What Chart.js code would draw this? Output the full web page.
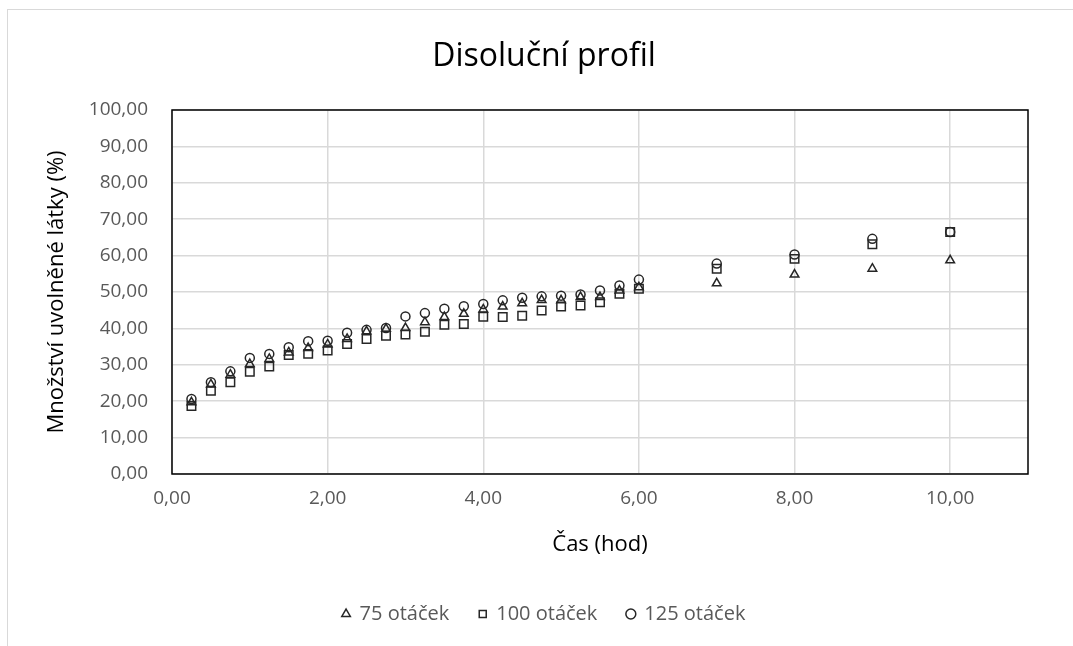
<!DOCTYPE html>
<html>
<head>
<meta charset="utf-8">
<script src="https://cdn.jsdelivr.net/npm/chart.js@4"></script>
<style>
  html, body { margin: 0; padding: 0; background: #fff; overflow: hidden; }
  #frame { position: absolute; left: 7px; top: 9px; width: 1200px; height: 800px; border: 1px solid #d9d9d9; }
  #wrap { position: absolute; left: 0; top: 0; width: 1073px; height: 646px; }
</style>
</head>
<body>
<div id="frame"></div>
<div id="wrap"><canvas id="myChart"></canvas></div>
<script>
// hodnoty
const times = [0.25, 0.5, 0.75, 1, 1.25, 1.5, 1.75, 2, 2.25, 2.5, 2.75, 3, 3.25, 3.5, 3.75, 4,
  4.25, 4.5, 4.75, 5, 5.25, 5.5, 5.75, 6, 7, 8, 9, 10];
const rpm75 = [19.7, 24.6, 27.3, 30.2, 31.6, 33.4, 34.6, 35.6, 37.1, 39.2, 39.9, 40.1, 41.7, 43.1, 44.0, 45.2,
  46.0, 46.9, 47.8, 47.7, 48.6, 48.6, 50.4, 51.3, 52.4, 54.8, 56.4, 58.7];
const rpm100 = [18.7, 22.9, 25.2, 28.1, 29.5, 32.7, 33.0, 33.9, 35.7, 37.1, 38.0, 38.3, 39.1, 41.0, 41.2, 43.2,
  43.1, 43.5, 44.9, 46.0, 46.3, 47.2, 49.5, 50.9, 56.4, 59.1, 63.1, 66.5];
const rpm125 = [20.6, 25.2, 28.2, 31.9, 33.0, 34.8, 36.5, 36.6, 38.8, 39.6, 40.1, 43.3, 44.2, 45.4, 46.1, 46.7,
  47.7, 48.4, 48.8, 49.0, 49.3, 50.4, 51.8, 53.4, 57.8, 60.3, 64.6, 66.5];
const seriesNames = ["75 otáček", "100 otáček", "125 otáček"];

const toPoints = (vals) => vals.map((v, i) => ({ x: times[i], y: v }));
const comma = (v) => v.toFixed(2).replace(".", ",");
const FONT = "'Open Sans', 'Noto Sans', sans-serif";
const ink = "#262626";

const plotBox = {
  id: "plotBox",
  afterDraw(chart) {
    const { ctx, chartArea: a } = chart;
    ctx.save();
    ctx.strokeStyle = "#000";
    ctx.lineWidth = 1.5;
    ctx.strokeRect(a.left, a.top, a.right - a.left, a.bottom - a.top);
    ctx.restore();
  }
};

const chart = new Chart(document.getElementById("myChart"), {
  type: "scatter",
  data: {
    datasets: [
      {
        label: seriesNames[0],
        data: toPoints(rpm75),
        pointStyle: "triangle",
        pointRadius: 5,
        borderColor: ink,
        backgroundColor: "rgba(0,0,0,0)",
        borderWidth: 1.5,
      },
      {
        label: seriesNames[1],
        data: toPoints(rpm100),
        pointStyle: "rect",
        pointRadius: 6,
        borderColor: ink,
        backgroundColor: "rgba(0,0,0,0)",
        borderWidth: 1.5,
      },
      {
        label: seriesNames[2],
        data: toPoints(rpm125),
        pointStyle: "circle",
        pointRadius: 4.5,
        borderColor: ink,
        backgroundColor: "rgba(0,0,0,0)",
        borderWidth: 1.5,
      },
    ],
  },
  options: {
    responsive: true,
    maintainAspectRatio: false,
    animation: false,
    layout: { padding: { left: 15, right: 0, top: 0, bottom: 12 } },
    plugins: {
      tooltip: { enabled: false },
      title: {
        display: true,
        text: "Disoluční profil",
        color: "#000",
        font: { family: FONT, size: 32, weight: "normal" },
        padding: { top: 38, bottom: 33.6 },
      },
      legend: {
        position: "bottom",
        labels: {
          usePointStyle: true,
          boxWidth: 7,
          boxHeight: 7,
          padding: 30,
          color: "#595959",
          font: { family: FONT, size: 20 },
        },
      },
    },
    scales: {
      x: {
        type: "linear",
        min: 0,
        max: 11,
        ticks: {
          stepSize: 2,
          includeBounds: false,
          color: "#595959",
          padding: 13,
          font: { family: FONT, size: 19 },
          callback: (v) => comma(v),
        },
        grid: { color: "#d9d9d9", lineWidth: 1.5, drawTicks: false },
        border: { display: false },
        title: {
          display: true,
          text: "Čas (hod)",
          color: "#000",
          font: { family: FONT, size: 22 },
          padding: { top: 0, bottom: 16 },
        },
        afterFit: (scale) => { scale.height = 100; },
      },
      y: {
        min: 0,
        max: 100,
        ticks: {
          stepSize: 10,
          color: "#595959",
          padding: 24,
          font: { family: FONT, size: 19 },
          callback: (v) => comma(v),
        },
        grid: { color: "#d9d9d9", lineWidth: 1.5, drawTicks: false },
        border: { display: false },
        title: {
          display: true,
          text: "Množství uvolněné látky (%)",
          color: "#000",
          font: { family: FONT, size: 22 },
          padding: { top: 29, bottom: 0 },
        },
        afterFit: (scale) => { scale.width = 157; },
      },
      // prázdná pravá osa jen drží okraj grafu
      yRight: {
        position: "right",
        min: 0,
        max: 100,
        grid: { display: false, drawOnChartArea: false },
        ticks: { display: false },
        border: { display: false },
        afterFit: (scale) => { scale.width = 45; },
      },
    },
  },
  plugins: [plotBox],
});
</script>
</body>
</html>
